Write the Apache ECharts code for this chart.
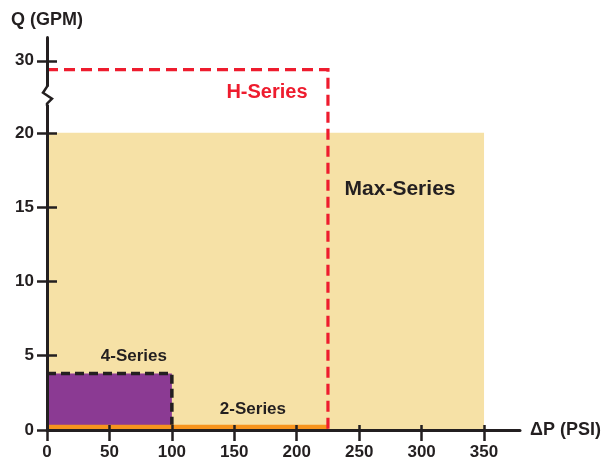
<!DOCTYPE html>
<html><head><meta charset="utf-8">
<script src="https://cdn.jsdelivr.net/npm/echarts@6/dist/echarts.min.js"></script>
<style>html,body{margin:0;padding:0;background:#fff}#c{width:608px;height:464px}</style>
</head><body><div id="c"></div>
<script>
// ---- data ----
const seriesNames = ['Max-Series', '4-Series', '2-Series', 'H-Series'];
const maxPSI = [350, 100, 225, 225];      // x extent (ΔP, PSI)
const maxGPM = [20, 3.8, 0.35, 29.4];     // y extent (Q, GPM)
const xTicks = [0, 50, 100, 150, 200, 250, 300, 350];
const yTicks = [0, 5, 10, 15, 20, 30];
const yBreak = [22.5, 27.65];
const xName = 'ΔP (PSI)';
const yName = 'Q (GPM)';

// ---- styles ----
const TXT = '#231F20';
const FONT = '"Liberation Sans", Arial, Helvetica, sans-serif';
const styles = {
  'Max-Series': { fill: '#F6E1A6', label: { dx: -84, dy: 56, color: TXT, size: 21 } },
  '4-Series': { fill: '#8B3A93', stroke: TXT, dash: [9, 5], width: 3.5, label: { dx: -38, dy: -17, color: TXT, size: 17 } },
  '2-Series': { fill: '#F7941D', label: { dx: -75, dy: -15, color: TXT, size: 17 } },
  'H-Series': { stroke: '#EE1C2E', dash: [11, 6], width: 3.2, label: { dx: -61, dy: 23, color: '#EE1C2E', size: 20 } }
};

function makeRender(name) {
  return function (params, api) {
    const x0 = api.value(0), x1 = api.value(1), y0 = api.value(2), y1 = api.value(3);
    const p00 = api.coord([x0, y0]);
    const p11 = api.coord([x1, y1]);
    const p10 = api.coord([x1, y0]);
    const p01 = api.coord([x0, y1]);
    const st = styles[name];
    const children = [];
    if (st.fill) {
      children.push({ type: 'rect', shape: { x: p00[0], y: p11[1], width: p11[0] - p00[0], height: p00[1] - p11[1] },
        style: { fill: st.fill } });
    }
    if (st.stroke) {
      children.push({ type: 'polyline', shape: { points: [p01, p11, p10] },
        style: { fill: null, stroke: st.stroke, lineWidth: st.width, lineDash: st.dash } });
    }
    children.push({ type: 'text', x: p11[0] + st.label.dx, y: p11[1] + st.label.dy,
      style: { text: name, fill: st.label.color, font: 'bold ' + st.label.size + 'px ' + FONT,
        align: 'center', verticalAlign: 'middle' } });
    return { type: 'group', children };
  };
}

const xMaxAxis = 378.8, yMaxAxis = 31.6;
const tickLine = { color: TXT, width: 2.5 };
const labelStyle = { color: TXT, fontSize: 17, fontWeight: 'bold', fontFamily: FONT };

const chart = echarts.init(document.getElementById('c'), null, { renderer: 'canvas' });
const option = {
  animation: false,
  backgroundColor: '#fff',
  grid: { left: 47, right: 88, top: 37, bottom: 34, containLabel: false, outerBoundsMode: 'none' },
  xAxis: [
    { type: 'value', min: 0, max: xMaxAxis, position: 'bottom', z: 10,
      axisLine: { show: true, onZero: false, lineStyle: { color: TXT, width: 3 } },
      axisTick: { show: true, customValues: xTicks, length: 11, lineStyle: tickLine },
      axisLabel: Object.assign({ customValues: xTicks, margin: 14 }, labelStyle),
      splitLine: { show: false },
      name: xName, nameLocation: 'end', nameGap: 10,
      nameTextStyle: { color: TXT, fontSize: 18, fontWeight: 'bold', fontFamily: FONT, verticalAlign: 'middle' } },
    { type: 'value', min: 0, max: xMaxAxis, position: 'bottom', z: 10,
      axisLine: { show: false, onZero: false },
      axisTick: { show: true, inside: true, customValues: xTicks, length: 5, lineStyle: tickLine },
      axisLabel: { show: false }, splitLine: { show: false } }
  ],
  yAxis: [
    { type: 'value', min: 0, max: yMaxAxis, position: 'left', z: 10,
      breaks: [{ start: yBreak[0], end: yBreak[1], gap: 0 }],
      breakArea: { show: false },
      axisLine: { show: true, onZero: false, lineStyle: { color: TXT, width: 3 } },
      axisTick: { show: true, customValues: yTicks, length: 10, lineStyle: tickLine },
      axisLabel: Object.assign({ customValues: yTicks, margin: 13 }, labelStyle),
      splitLine: { show: false },
      name: yName, nameLocation: 'end', nameGap: 8,
      nameTextStyle: { color: TXT, fontSize: 18, fontWeight: 'bold', fontFamily: FONT } },
    { type: 'value', min: 0, max: yMaxAxis, position: 'left', z: 10,
      breaks: [{ start: yBreak[0], end: yBreak[1], gap: 0 }],
      breakArea: { show: false },
      axisLine: { show: false, onZero: false },
      axisTick: { show: true, inside: true, customValues: yTicks, length: 10, lineStyle: tickLine },
      axisLabel: { show: false }, splitLine: { show: false } }
  ],
  series: seriesNames.map((name, i) => ({
    type: 'custom', name, clip: false, z: 2 + i,
    xAxisIndex: 0, yAxisIndex: 0,
    renderItem: makeRender(name),
    encode: { x: [0, 1], y: [2, 3] },
    data: [[0, maxPSI[i], 0, maxGPM[i]]]
  }))
};
chart.setOption(option);

// axis-break zigzag on the y-axis line
const bx = chart.convertToPixel({ xAxisIndex: 0 }, 0);
const by = chart.convertToPixel({ yAxisIndex: 0 }, yBreak[0]);
chart.setOption({
  graphic: [
    { type: 'rect', z: 100, shape: { x: bx - 3, y: by - 9, width: 6, height: 18 }, style: { fill: '#fff' } },
    { type: 'polyline', z: 101, shape: { points: [[bx, by - 10], [bx, by - 9], [bx - 4, by - 3], [bx + 5, by + 3], [bx, by + 8], [bx, by + 10]] },
      style: { fill: null, stroke: TXT, lineWidth: 2.5 } }
  ]
});
</script>
</body></html>
